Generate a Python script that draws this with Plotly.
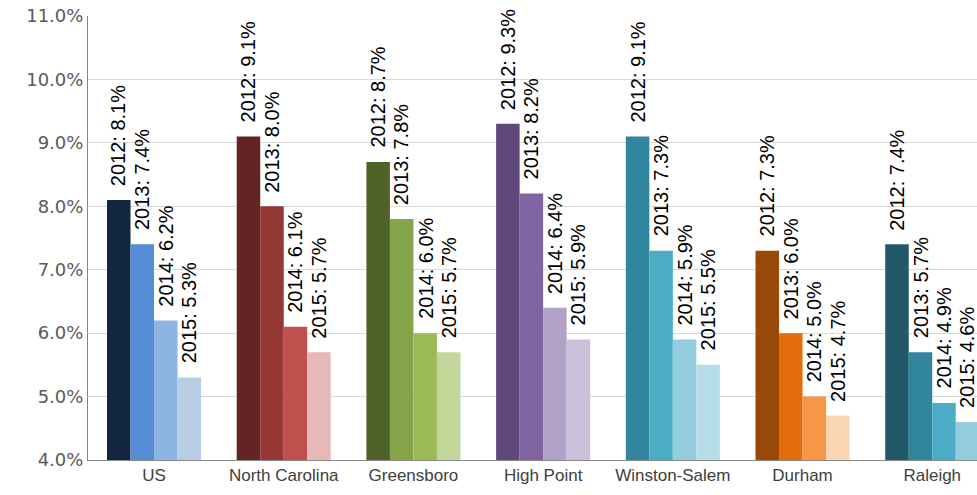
import plotly.graph_objects as go

# Unemployment rate by area, 2012-2015 (%)
areas = ["US", "North Carolina", "Greensboro", "High Point", "Winston-Salem", "Durham", "Raleigh"]
years = ["2012", "2013", "2014", "2015"]
rate_2012 = [8.1, 9.1, 8.7, 9.3, 9.1, 7.3, 7.4]
rate_2013 = [7.4, 8.0, 7.8, 8.2, 7.3, 6.0, 5.7]
rate_2014 = [6.2, 6.1, 6.0, 6.4, 5.9, 5.0, 4.9]
rate_2015 = [5.3, 5.7, 5.7, 5.9, 5.5, 4.7, 4.6]
rates = [rate_2012, rate_2013, rate_2014, rate_2015]

# one colour ramp per area, darkest for 2012
palette = {
    "US": ["#12263F", "#558ED5", "#8EB4E3", "#B9CDE5"],
    "North Carolina": ["#632523", "#953735", "#C0504D", "#E6B9B8"],
    "Greensboro": ["#4F6228", "#86A44A", "#9BBB59", "#C4D79B"],
    "High Point": ["#5F497A", "#8064A2", "#B3A2C7", "#CCC1DA"],
    "Winston-Salem": ["#31859C", "#4BACC6", "#93CDDD", "#B7DEE8"],
    "Durham": ["#984807", "#E46C0A", "#F79646", "#FCD5B5"],
    "Raleigh": ["#215968", "#31859C", "#4BACC6", "#93CDDD"],
}

bargap = 0.275
n_years = len(years)
bar_w = (1 - bargap) / n_years

fig = go.Figure()
annotations = []
for j, (yr, vals) in enumerate(zip(years, rates)):
    fig.add_trace(go.Bar(
        x=list(range(len(areas))),
        y=vals,
        name=yr,
        marker=dict(color=[palette[a][j] for a in areas], line=dict(width=0)),
        showlegend=False,
    ))
    for i, v in enumerate(vals):
        annotations.append(dict(
            x=i + (j - (n_years - 1) / 2) * bar_w,
            y=v,
            xref="x", yref="y",
            text=f"{yr}: {v:.1f}%",
            textangle=-90,
            showarrow=False,
            xanchor="center", yanchor="bottom",
            yshift=12,
            font=dict(family="Liberation Sans, Arial, sans-serif", size=20, color="#000000"),
        ))

fig.update_layout(
    width=977, height=495,
    margin=dict(l=88, r=0, t=16, b=35),
    barmode="group",
    bargap=bargap,
    bargroupgap=0,
    plot_bgcolor="white",
    paper_bgcolor="white",
    annotations=annotations,
)
fig.update_xaxes(
    tickmode="array",
    tickvals=list(range(len(areas))),
    ticktext=areas,
    range=[-0.509, 6.345],
    showline=True, linecolor="#868686", linewidth=1,
    showgrid=False, ticks="",
    tickfont=dict(family="Liberation Sans, Arial, sans-serif", size=17, color="#404040"),
)
fig.update_yaxes(
    range=[4, 11],
    dtick=1,
    tickformat=".1f",
    ticksuffix="%",
    showline=True, linecolor="#868686", linewidth=1,
    showgrid=True, gridcolor="#D9D9D9", gridwidth=1,
    ticks="",
    zeroline=False,
    tickfont=dict(family="DejaVu Sans, sans-serif", size=18, color="#595959"),
)

fig.write_html("out.html")
